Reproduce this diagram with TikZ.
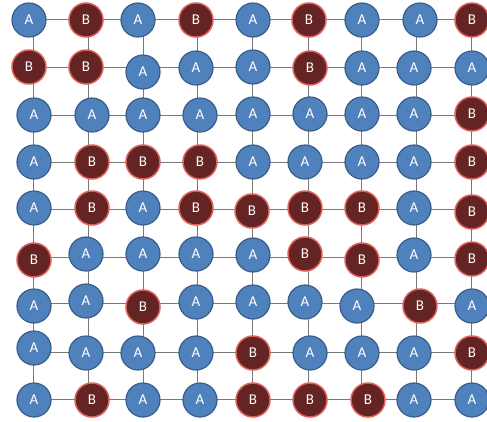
\documentclass[tikz,border=0pt]{standalone}
\usepackage{fontspec}
\setmainfont{Carlito}
\definecolor{afill}{RGB}{79,129,189}
\definecolor{aline}{RGB}{56,93,138}
\definecolor{bfill}{RGB}{99,36,35}
\definecolor{bline}{RGB}{222,96,90}
\definecolor{linegray}{RGB}{120,120,120}
\begin{document}
\begin{tikzpicture}[x=1pt,y=-1pt,
  nodeA/.style={circle,minimum size=34pt,inner sep=0pt,fill=afill,draw=aline,line width=1.2pt,text=white,font=\fontsize{15}{15}\selectfont},
  nodeB/.style={nodeA,fill=bfill,draw=bline,line width=1.5pt},
  gridline/.style={draw=linegray,line width=1pt}]
\useasboundingbox (0,0) rectangle (487,421);
% grid coordinates
\foreach \x [count=\c from 0] in {33,88,143,197,252,308,361,416,471}{
  \foreach \y [count=\r from 0] in {19.5,67,115,162,209,257,303,352,399}{
    \coordinate (g-\r-\c) at (\x,\y);
  }
}
% horizontal connectors
\foreach \r in {0,...,8}{
  \foreach \c [evaluate=\c as \d using int(\c+1)] in {0,...,7}{
    \draw[gridline] (g-\r-\c) -- (g-\r-\d);
  }
}
% vertical connectors
\foreach \c in {0,...,8}{
  \foreach \r [evaluate=\r as \s using int(\r+1)] in {0,...,7}{
    \draw[gridline] (g-\r-\c) -- (g-\s-\c);
  }
}
% nodes
\foreach \x/\y/\t [count=\i from 0] in {
  29/20/A,86/20/B,138/20/A,196/20/B,253/20/A,309/20/B,362/20/A,420/20/A,472/20/B,
  29/67/B,86/67/B,143/72/A,196/68/A,253/67/A,310/68/B,362/68/A,414/68/A,472/68/A,
  34/115/A,92/115/A,143/115/A,200/115/A,253/114/A,310/114/A,362/114/A,414/114/A,472/114/B,
  34/162/A,92/162/B,143/162/B,200/162/B,253/162/A,305/162/A,362/162/A,414/162/A,472/162/B,
  34/208/A,92/208/B,143/208/A,196/208/B,252/211/B,305/208/B,362/208/B,414/208/A,472/212/B,
  34/260/B,86/254/A,143/254/A,196/254/A,253/255/A,305/254/B,362/260/B,414/255/A,472/259/B,
  34/306/A,86/301/A,143/307/B,196/302/A,253/302/A,305/302/A,357/306/A,420/306/B,472/306/A,
  34/348/A,86/353/A,138/353/A,196/353/A,253/353/B,310/353/A,362/353/A,414/353/A,472/353/B,
  34/400/A,92/400/B,143/400/A,200/400/A,253/400/B,310/400/B,368/400/B,414/400/A,472/400/A}{
  \pgfmathtruncatemacro\rr{int(\i/9)}
  \pgfmathtruncatemacro\cc{mod(\i,9)}
  \node[node\t] (n-\rr-\cc) at (\x,\y) {\t};
}
\end{tikzpicture}
\end{document}
